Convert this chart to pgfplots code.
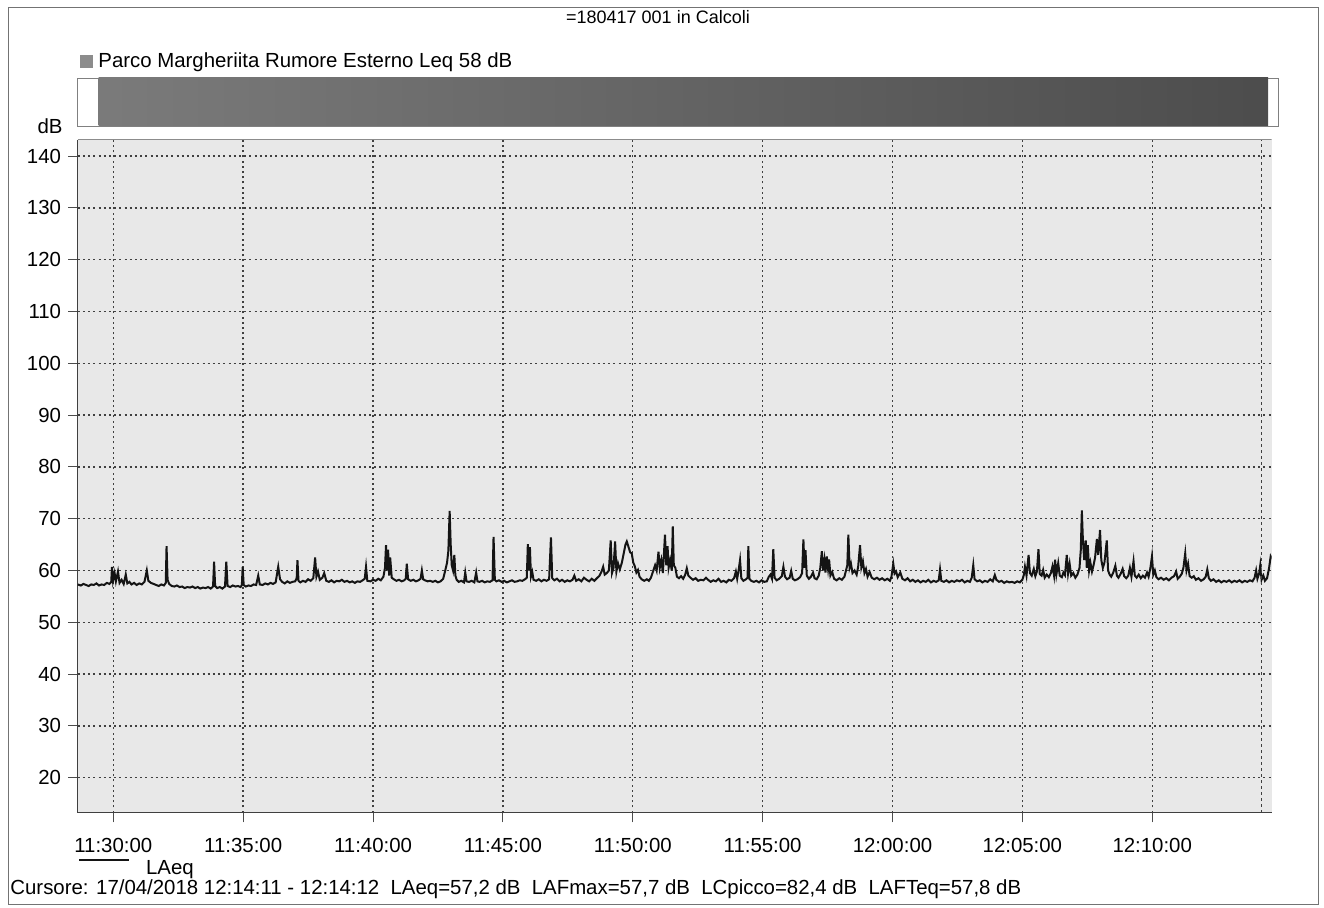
\documentclass[border=0pt]{standalone}
\usepackage{fontspec}
\setmainfont{Liberation Sans}
\usepackage{pgfplots}
\pgfplotsset{compat=1.18}
\newcommand{\lbl}{\fontsize{10.2}{12}\selectfont}
\newcommand{\ttl}{\fontsize{9}{11}\selectfont}
\begin{document}
\begin{tikzpicture}
\useasboundingbox (0,0) rectangle (662pt,454pt);
\draw[black!55, line width=0.5pt] (4pt,1.5pt) rectangle (659pt,450pt);
\node[font=\ttl] at (329pt,445.5pt) {=180417 001 in Calcoli};
\fill[black!45] (40pt,420pt) rectangle (46.5pt,426.5pt);
\node[anchor=west, font=\lbl, inner sep=0pt] at (49pt,423pt) {Parco Margheriita Rumore Esterno Leq 58 dB};
\node[anchor=east, font=\lbl, inner sep=0pt] at (31.5pt,391pt) {dB};

% top time bar
\begin{axis}[at={(38.85pt,391pt)}, anchor=south west, scale only axis,
  width=600.3pt, height=24pt, xmin=-1.371, xmax=44.86, ymin=0, ymax=1,
  xtick=\empty, ytick=\empty, axis line style={black!50, line width=0.4pt}]
\addplot[draw=none, left color=black!52, right color=black!70] coordinates {(-0.57,1) (44.47,1)} \closedcycle;
\end{axis}

% main axis
\begin{axis}[at={(38.85pt,47.65pt)}, anchor=south west, scale only axis,
  width=597pt, height=336.35pt,
  xmin=-1.371, xmax=44.6, ymin=13.24, ymax=143.1,
  axis lines*=left,
  axis line style={black!75, line width=0.6pt},
  axis background/.style={fill=black!9},
  xtick={0,5,10,15,20,25,30,35,40},
  xticklabels={11:30:00,11:35:00,11:40:00,11:45:00,11:50:00,11:55:00,12:00:00,12:05:00,12:10:00},
  ytick={20,30,40,50,60,70,80,90,100,110,120,130,140},
  tick align=outside, major tick length=4.8pt,
  tick style={black!70, line width=0.5pt},
  grid=major,
  major grid style={black!75, line width=0.7pt, dash pattern=on 1pt off 1.6pt},
  tick label style={font=\lbl},
  xticklabel style={yshift=-4.5pt},
  /pgf/number format/assume math mode=true,
  legend style={at={(0.0,-0.083)}, anchor=west, draw=none, fill=none, font=\lbl, inner sep=0pt},
  legend image code/.code={\draw[#1] (0pt,4.5pt) -- (25pt,4.5pt); \path (31pt,4.5pt);},
]
\addplot[black!92, line width=1pt] coordinates {
(-1.37,57.3) (-1.25,57.1) (-1.15,57.4) (-1.05,57.2) (-0.95,57.0) (-0.85,57.3) (-0.75,57.2) (-0.65,57.5)
(-0.55,57.1) (-0.45,57.3) (-0.35,57.2) (-0.25,57.6) (-0.15,57.4) (-0.08,57.8) (-0.05,60.7) (-0.01,58.0)
(0.05,59.5) (0.10,57.9) (0.18,59.8) (0.24,57.6) (0.32,58.2) (0.40,57.4) (0.48,59.2) (0.54,57.5)
(0.62,57.8) (0.70,57.3) (0.80,57.6) (0.90,57.2) (1.00,57.5) (1.10,57.3) (1.20,57.8) (1.29,60.0)
(1.35,58.0) (1.45,57.6) (1.55,57.4) (1.65,57.2) (1.75,57.0) (1.85,57.3) (1.95,57.1) (2.02,57.6)
(2.05,64.7) (2.09,58.2) (2.15,57.4) (2.25,57.0) (2.35,56.9) (2.45,57.1) (2.55,56.8) (2.65,56.9)
(2.75,56.6) (2.85,56.8) (2.95,56.7) (3.05,56.9) (3.15,56.6) (3.25,56.8) (3.35,56.5) (3.45,56.7)
(3.55,56.6) (3.65,56.8) (3.75,56.5) (3.84,56.9) (3.88,61.7) (3.92,57.0) (4.00,56.6) (4.10,56.8)
(4.20,56.5) (4.30,56.9) (4.35,61.7) (4.40,57.0) (4.50,56.8) (4.60,57.1) (4.70,56.9) (4.80,57.0)
(4.90,56.8) (4.95,57.2) (4.98,60.7) (5.02,57.2) (5.10,56.9) (5.20,57.1) (5.30,57.0) (5.40,57.3)
(5.50,57.2) (5.58,59.0) (5.64,57.3) (5.75,57.2) (5.85,57.5) (5.95,57.3) (6.05,57.6) (6.15,57.4)
(6.25,57.7) (6.35,60.7) (6.42,58.3) (6.50,57.8) (6.60,57.5) (6.70,57.9) (6.80,57.6) (6.90,57.8)
(7.00,57.9) (7.06,58.5) (7.09,62.0) (7.13,58.0) (7.20,57.7) (7.30,58.0) (7.40,57.8) (7.50,58.3)
(7.60,58.0) (7.70,58.5) (7.77,62.5) (7.82,58.8) (7.88,59.8) (7.95,58.2) (8.05,58.6) (8.12,59.5)
(8.20,58.0) (8.30,57.8) (8.40,58.1) (8.50,57.7) (8.60,58.0) (8.70,57.9) (8.80,58.2) (8.90,57.8)
(9.00,58.0) (9.10,57.7) (9.20,57.9) (9.30,57.6) (9.40,57.9) (9.50,57.8) (9.60,58.1) (9.68,58.4)
(9.73,60.7) (9.78,58.0) (9.90,57.9) (10.00,58.2) (10.10,58.0) (10.20,58.4) (10.30,58.1) (10.40,58.8)
(10.46,60.5) (10.50,64.9) (10.54,60.0) (10.58,64.0) (10.62,59.0) (10.66,62.5) (10.72,58.6) (10.80,58.3)
(10.90,58.0) (11.00,58.2) (11.10,57.9) (11.20,58.1) (11.26,58.4) (11.30,61.3) (11.35,58.3) (11.45,58.0)
(11.55,58.2) (11.65,57.9) (11.75,58.1) (11.83,58.4) (11.88,60.0) (11.93,58.3) (12.00,58.1) (12.10,57.9)
(12.20,58.0) (12.30,57.8) (12.40,58.0) (12.50,57.7) (12.60,57.9) (12.70,58.4) (12.78,60.0) (12.85,61.5)
(12.90,63.8) (12.95,71.5) (12.99,65.0) (13.03,61.0) (13.08,60.0) (13.13,63.0) (13.17,59.0) (13.22,58.2)
(13.30,57.8) (13.40,58.0) (13.50,57.7) (13.55,59.6) (13.60,57.9) (13.70,57.8) (13.80,58.0) (13.90,57.7)
(13.97,59.6) (14.02,57.9) (14.10,57.8) (14.20,58.0) (14.30,57.7) (14.40,57.9) (14.50,57.8) (14.60,58.1)
(14.64,66.5) (14.69,58.2) (14.75,57.9) (14.85,58.1) (14.95,57.8) (15.05,58.0) (15.15,57.7) (15.25,57.9)
(15.35,58.1) (15.45,57.8) (15.55,57.9) (15.65,58.1) (15.75,58.0) (15.85,58.3) (15.92,58.6) (15.96,65.1)
(16.00,60.0) (16.04,64.5) (16.08,58.8) (16.13,59.7) (16.18,58.2) (16.28,58.0) (16.38,58.3) (16.48,57.9)
(16.58,58.2) (16.68,58.0) (16.78,58.3) (16.85,66.4) (16.90,58.5) (16.98,58.1) (17.08,58.4) (17.18,57.9)
(17.28,58.2) (17.38,57.8) (17.48,58.1) (17.58,57.9) (17.68,58.2) (17.75,59.0) (17.82,58.0) (17.92,58.3)
(18.02,57.9) (18.12,58.6) (18.22,58.2) (18.32,57.9) (18.42,58.4) (18.52,58.0) (18.62,58.5) (18.72,59.0)
(18.80,59.8) (18.86,60.7) (18.92,59.2) (19.00,59.5) (19.08,60.0) (19.15,65.8) (19.20,59.5) (19.26,60.5)
(19.32,65.6) (19.37,59.8) (19.43,61.4) (19.50,60.2) (19.58,61.5) (19.66,63.5) (19.72,65.0) (19.77,65.6)
(19.82,64.8) (19.90,63.5) (19.96,63.3) (20.02,61.5) (20.08,60.8) (20.14,59.6) (20.20,60.1) (20.26,58.8)
(20.34,58.3) (20.44,58.0) (20.54,58.3) (20.62,58.0) (20.70,58.6) (20.78,59.8) (20.86,61.0) (20.92,60.0)
(20.99,63.6) (21.04,60.5) (21.10,62.0) (21.16,59.5) (21.24,66.9) (21.29,61.0) (21.34,64.7) (21.38,60.5)
(21.44,62.0) (21.50,60.0) (21.54,68.5) (21.58,61.0) (21.64,60.5) (21.70,58.8) (21.78,58.5) (21.86,58.9)
(21.94,58.4) (22.02,59.2) (22.08,60.4) (22.14,59.0) (22.22,58.6) (22.32,58.2) (22.42,58.5) (22.52,58.0)
(22.62,58.2) (22.72,58.1) (22.82,58.6) (22.90,58.2) (23.00,57.8) (23.10,58.1) (23.20,57.9) (23.30,58.4)
(23.40,57.8) (23.50,58.0) (23.60,57.7) (23.70,58.2) (23.80,58.0) (23.90,58.5) (23.97,59.8) (24.02,58.4)
(24.08,60.2) (24.13,62.0) (24.18,58.5) (24.26,58.0) (24.36,58.3) (24.42,58.6) (24.45,64.7) (24.49,58.4)
(24.56,58.0) (24.66,57.8) (24.76,58.0) (24.86,57.7) (24.96,58.1) (25.06,57.8) (25.16,57.9) (25.24,58.8)
(25.30,59.2) (25.36,58.4) (25.41,64.1) (25.46,58.6) (25.54,58.1) (25.64,58.4) (25.74,58.9) (25.80,60.7)
(25.86,58.8) (25.94,58.3) (26.04,58.6) (26.10,59.9) (26.16,58.4) (26.24,58.1) (26.34,58.3) (26.44,58.7)
(26.52,59.5) (26.57,66.0) (26.61,60.5) (26.65,63.9) (26.70,59.0) (26.78,58.4) (26.86,58.8) (26.94,59.6)
(27.00,58.5) (27.08,58.3) (27.16,59.0) (27.22,60.5) (27.28,63.7) (27.33,60.0) (27.38,62.0) (27.42,59.6)
(27.47,62.7) (27.52,60.3) (27.56,62.1) (27.61,59.0) (27.68,59.7) (27.75,58.4) (27.85,58.1) (27.95,58.5)
(28.05,58.2) (28.15,58.8) (28.22,60.2) (28.26,61.0) (28.30,66.9) (28.35,60.5) (28.40,61.3) (28.46,59.5)
(28.54,60.0) (28.62,59.2) (28.68,60.8) (28.75,64.9) (28.80,60.6) (28.86,61.8) (28.92,59.5) (28.98,60.3)
(29.04,58.8) (29.12,59.7) (29.20,58.6) (29.30,58.3) (29.40,58.6) (29.50,58.2) (29.60,58.5) (29.70,58.1)
(29.80,58.4) (29.90,58.0) (29.96,58.8) (30.03,61.3) (30.08,59.4) (30.14,59.8) (30.20,58.7) (30.30,59.6)
(30.38,58.4) (30.48,58.1) (30.58,58.5) (30.68,57.9) (30.78,58.2) (30.88,57.8) (30.98,58.1) (31.08,57.7)
(31.18,58.0) (31.28,57.8) (31.38,58.2) (31.48,57.7) (31.58,58.0) (31.68,57.8) (31.78,58.1) (31.83,60.2)
(31.88,58.0) (31.98,57.8) (32.08,58.1) (32.18,57.7) (32.28,58.0) (32.38,57.8) (32.48,58.1) (32.58,57.9)
(32.68,58.2) (32.78,57.7) (32.88,58.0) (32.98,57.8) (33.05,58.6) (33.11,61.0) (33.16,58.3) (33.26,57.9)
(33.36,58.1) (33.46,57.7) (33.56,58.0) (33.66,57.8) (33.76,58.3) (33.86,57.9) (33.94,59.1) (34.00,58.2)
(34.10,57.8) (34.20,58.0) (34.30,57.6) (34.40,57.9) (34.50,57.7) (34.60,57.8) (34.70,57.6) (34.80,57.9)
(34.90,57.7) (35.00,58.2) (35.06,59.2) (35.10,60.7) (35.16,59.0) (35.24,63.0) (35.29,59.5) (35.36,59.0)
(35.44,60.3) (35.50,58.9) (35.56,59.8) (35.62,64.1) (35.67,59.3) (35.74,59.0) (35.80,60.1) (35.86,58.6)
(35.94,59.2) (36.02,58.7) (36.10,59.5) (36.16,60.8) (36.22,59.0) (36.26,62.1) (36.31,59.2) (36.38,61.4)
(36.44,59.0) (36.52,58.7) (36.58,59.6) (36.64,59.1) (36.71,63.0) (36.76,59.4) (36.82,61.3) (36.88,59.0)
(36.96,59.5) (37.04,58.6) (37.12,59.2) (37.20,60.5) (37.25,64.0) (37.29,71.6) (37.33,66.0) (37.38,62.0)
(37.44,65.8) (37.48,60.5) (37.52,64.9) (37.57,60.0) (37.62,61.5) (37.68,59.8) (37.74,61.0) (37.80,62.5)
(37.87,66.1) (37.92,63.0) (37.99,67.8) (38.04,62.0) (38.10,60.5) (38.16,61.5) (38.25,65.8) (38.30,60.0)
(38.36,59.2) (38.42,58.8) (38.50,59.6) (38.58,60.9) (38.64,59.0) (38.70,58.6) (38.78,59.3) (38.86,60.3)
(38.92,58.9) (39.00,58.5) (39.08,59.0) (39.14,60.5) (39.20,58.8) (39.28,61.8) (39.33,59.0) (39.40,58.6)
(39.48,59.2) (39.56,58.5) (39.64,59.0) (39.72,58.6) (39.80,59.6) (39.86,58.8) (39.93,60.5) (39.99,62.7)
(40.04,59.2) (40.10,60.0) (40.16,58.7) (40.24,58.3) (40.34,58.6) (40.44,58.2) (40.54,58.5) (40.64,58.1)
(40.74,58.6) (40.84,58.9) (40.92,59.8) (40.98,58.4) (41.06,58.8) (41.14,59.4) (41.20,60.5) (41.27,63.3)
(41.32,60.0) (41.38,61.3) (41.44,58.9) (41.52,58.6) (41.60,58.9) (41.68,58.2) (41.78,58.5) (41.88,58.0)
(41.98,58.3) (42.06,58.8) (42.12,60.2) (42.18,58.5) (42.26,58.0) (42.36,58.3) (42.46,57.8) (42.56,58.1)
(42.66,57.7) (42.76,58.0) (42.86,57.8) (42.96,58.1) (43.06,57.7) (43.16,58.0) (43.26,57.8) (43.36,58.1)
(43.46,57.7) (43.56,58.0) (43.66,57.8) (43.76,58.1) (43.86,57.9) (43.94,58.6) (44.00,60.0) (44.05,58.4)
(44.12,59.5) (44.16,61.0) (44.21,58.2) (44.28,59.0) (44.34,58.0) (44.42,58.5) (44.50,60.5) (44.56,62.7)
(44.60,62.3)
};
\addlegendentry{LAeq}
\addplot[forget plot, black!75, line width=0.6pt, dash pattern=on 1.5pt off 1.5pt] coordinates {(44.22,13.24) (44.22,143.1)};
\draw[black!45, line width=0.5pt] (rel axis cs:0,1) -- (rel axis cs:1,1);
\end{axis}
\node[anchor=west, font=\lbl, inner sep=0pt] at (5pt,9.5pt) {Cursore: 17/04/2018 12:14:11 - 12:14:12\ \ LAeq=57,2 dB\ \ LAFmax=57,7 dB\ \ LCpicco=82,4 dB\ \ LAFTeq=57,8 dB};
\end{tikzpicture}
\end{document}
